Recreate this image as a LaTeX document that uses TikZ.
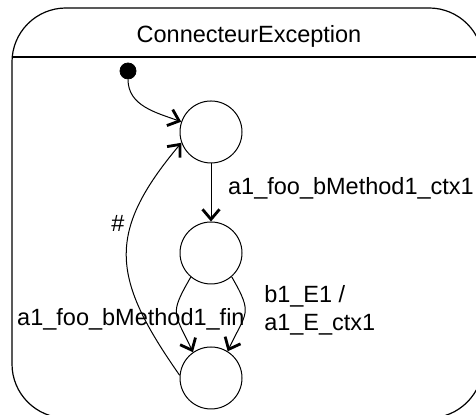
\documentclass[tikz,border=0pt]{standalone}
\usepackage{fontspec}
\setmainfont{Liberation Sans}
\usetikzlibrary{arrows.meta, positioning}

\begin{document}
\begin{tikzpicture}[
  x=0.5pt, y=0.5pt, font=\fontsize{11.75}{14}\selectfont,
  > = {Straight Barb[length=5pt, width=8.5pt, line width=1.4pt]},
  state/.style = {draw, circle, minimum size=31pt, inner sep=0pt, line width=0.5pt},
  start/.style = {draw, fill, circle, minimum size=8pt, inner sep=0pt},
  trans/.style = {->, line width=0.5pt}
  ]
  \useasboundingbox (0,0) rectangle (476,415);
  \clip (0,0) rectangle (476,415);
  % composite state
  \draw[line width=0.6pt, rounded corners=27pt] (12,-3) rectangle (483,407);
  \draw[line width=0.6pt] (12,358) -- (483,358);
  \node (title) at (249,379) {ConnecteurException};
  % states
  \node[start] (init) at (128,344) {};
  \node[state] (st1) at (211,283) {};
  \node[state, below=29pt of st1] (st2) {};
  \node[state, below=31pt of st2] (st3) {};
  % transitions
  \draw[trans] (init) to[out=-90, in=160] (st1.161);
  \draw[trans] (st1) -- (st2) node[pos=.42, right=5pt] {a1\_foo\_bMethod1\_ctx1};
  \draw[trans] (st2.230) to[out=240, in=115, looseness=1.5] node[pos=.6, anchor=east, xshift=37pt] {a1\_foo\_bMethod1\_fin} (st3.125);
  \draw[trans] (st2.-49) to[out=-60, in=65, looseness=1.5] node[pos=.45, right=6pt, align=left] {b1\_E1 /\\a1\_E\_ctx1} (st3.58);
  \draw[trans] (st3.175) to[out=125, in=230, looseness=1.3] node[pos=.66, left] {\#} (st1.200);
\end{tikzpicture}
\end{document}
